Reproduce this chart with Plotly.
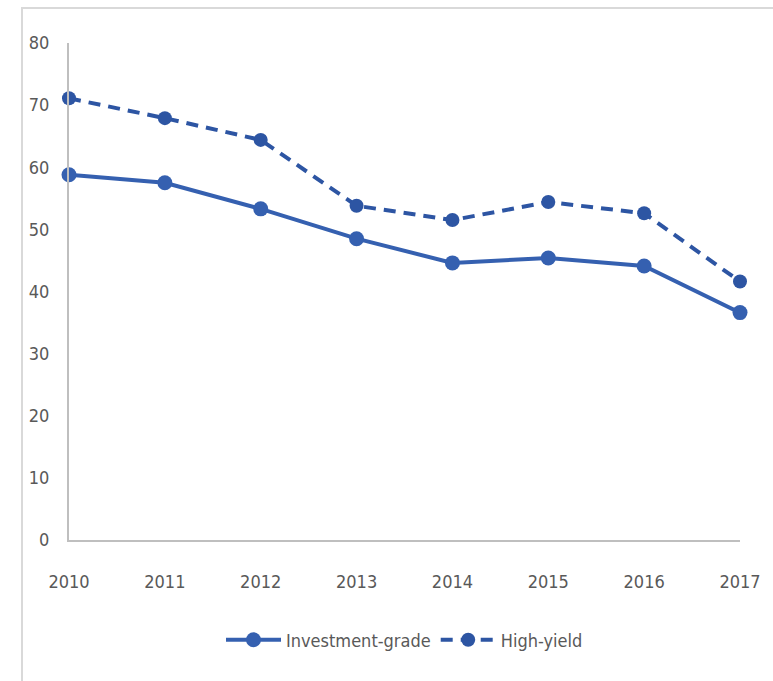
import plotly.graph_objects as go

# Share of issuance (%) by year
years = [2010, 2011, 2012, 2013, 2014, 2015, 2016, 2017]
investment_grade = [58.8, 57.5, 53.3, 48.5, 44.6, 45.4, 44.1, 36.6]
high_yield = [71.1, 67.9, 64.4, 53.8, 51.5, 54.4, 52.6, 41.6]
y_ticks = [0, 10, 20, 30, 40, 50, 60, 70, 80]

W, H = 773, 681
ML, MR, MT, MB = 69, 33, 43, 141

blue = "#3560B0"
blue_dark = "#2D55A3"
grey_text = "#595959"
axis_grey = "#BFBFBF"
font_family = "DejaVu Sans Condensed, Liberation Sans Narrow, sans-serif"

fig = go.Figure()
fig.add_trace(go.Scatter(
    x=years, y=investment_grade, name="Investment-grade",
    mode="lines+markers",
    line=dict(color=blue, width=4),
    marker=dict(symbol="circle", size=15, color=blue),
    cliponaxis=False,
))
fig.add_trace(go.Scatter(
    x=years, y=high_yield, name="High-yield",
    mode="lines+markers",
    line=dict(color=blue_dark, width=4, dash="12px,8px"),
    marker=dict(symbol="circle", size=14, color=blue_dark),
    cliponaxis=False,
))

pw = W - ML - MR
ph = H - MT - MB
# Light frame around the chart area
fig.add_shape(
    type="rect", xref="paper", yref="paper",
    x0=(22 - ML) / pw, x1=(W + 20 - ML) / pw,
    y0=-(H + 20 - (H - MB)) / ph, y1=((H - MB) - 8) / ph,
    line=dict(color="#D9D9D9", width=2), fillcolor="rgba(0,0,0,0)",
    layer="below",
)

fig.update_layout(
    width=W, height=H,
    margin=dict(l=ML, r=MR, t=MT, b=MB),
    paper_bgcolor="white", plot_bgcolor="white",
    font=dict(family=font_family, size=18, color=grey_text),
    showlegend=True,
    legend=dict(
        orientation="h", x=0.5, xanchor="center",
        y=(ph - (640 - MT)) / ph, yanchor="middle",
        font=dict(size=18, color=grey_text),
        itemwidth=55,
    ),
    xaxis=dict(
        range=[2010, 2017], tickvals=years, ticktext=[str(y) for y in years],
        showgrid=False, zeroline=False, showline=True,
        linecolor=axis_grey, linewidth=2, ticks="",
        ticklabelstandoff=24,
    ),
    yaxis=dict(
        range=[0, 80], tickvals=y_ticks,
        showgrid=False, zeroline=False, showline=True,
        linecolor=axis_grey, linewidth=2, ticks="",
        ticklabelstandoff=14,
    ),
)

fig.write_html("out.html")
